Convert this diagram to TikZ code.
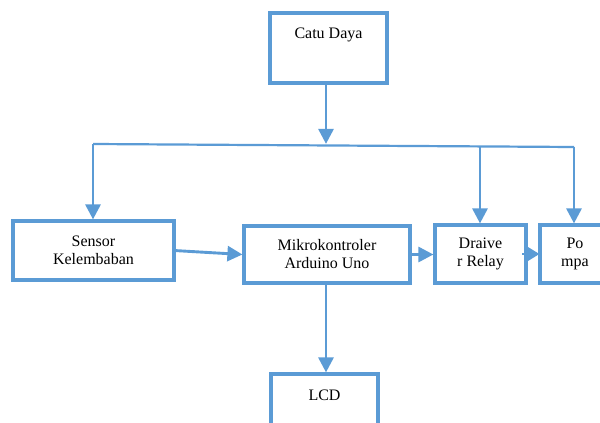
\documentclass[tikz,border=0pt]{standalone}
\usepackage{fontspec}
\setmainfont{Liberation Serif}
\usetikzlibrary{arrows.meta}
\definecolor{lineblue}{HTML}{5B9BD5}
\begin{document}
\begin{tikzpicture}[x=1pt,y=-1pt]
  \tikzstyle{box}=[draw=lineblue, line width=3.2pt, fill=white, align=center, inner sep=0pt,
    outer sep=0pt, font=\fontsize{16}{18}\selectfont]
  \tikzstyle{arrow}=[draw=lineblue, line width=2.9pt, -{Triangle[length=15pt,width=15pt]}]
  \tikzstyle{bus}=[draw=lineblue, line width=2.2pt]

  \useasboundingbox (0,0) rectangle (600,423);
  \clip (0,0) rectangle (600,423);

  \node[box, minimum width=117pt, minimum height=70pt, text height=25pt, text depth=45pt]
    (catu) at (328.5, 48) {Catu Daya};
  \node[box, minimum width=161pt, minimum height=59pt] (sensor) at (93.5, 250.5) {Sensor\\Kelembaban};
  \node[box, minimum width=166pt, minimum height=57pt] (mikro)  at (327,  254.5) {Mikrokontroler\\Arduino Uno};
  \node[box, minimum width=91pt,  minimum height=58pt] (driver) at (480.5, 254)  {Draive\\r Relay};
  \node[box, minimum width=70pt,  minimum height=58pt] (pompa)  at (575,  254)   {Po\\mpa};
  \node[box, minimum width=107pt, minimum height=70pt, text height=26pt, text depth=44pt]
    (lcd) at (324.5, 409) {LCD};

  \coordinate (busL) at (93,  144);
  \coordinate (busC) at (326, 145.5);
  \coordinate (busD) at (480, 146.5);
  \coordinate (busR) at (574, 147);

  \path[bus] (busL) -- (busR);
  \path[arrow] (catu.south -| busC) -- ([yshift=1.6pt]busC);
  \path[arrow] (busL) -- ([yshift=1.6pt]sensor.north -| busL);
  \path[arrow] (busD) -- ([yshift=1.6pt]driver.north -| busD);
  \path[arrow] (busR) -- ([yshift=1.6pt]pompa.north -| busR);

  \path[arrow] (sensor.east) -- ([xshift=-1.6pt]mikro.west);
  \path[arrow] (mikro.east) -- ([xshift=-1.6pt]mikro.west -| driver.west);
  \path[arrow, -{Triangle[length=13pt,width=15pt]}] ([xshift=-4pt]driver.east) -- ([xshift=-0.5pt]pompa.west);
  \path[arrow] (mikro.south -| busC) -- ([yshift=1.6pt]lcd.north -| busC);
\end{tikzpicture}
\end{document}
